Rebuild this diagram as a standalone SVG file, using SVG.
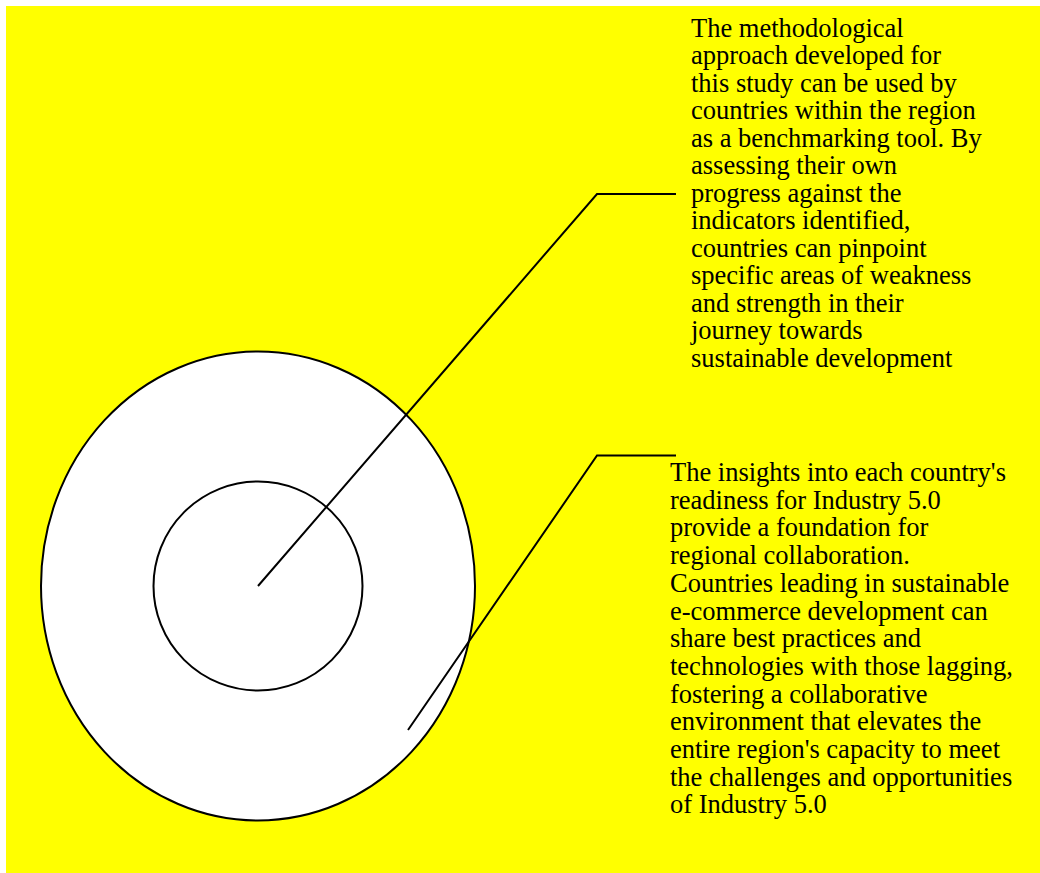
<svg xmlns="http://www.w3.org/2000/svg" width="1040" height="873" viewBox="0 0 1040 873">
<style>
.ring{fill:#ffffff;stroke:#000000;stroke-width:2}
.conn{fill:none;stroke:#000000;stroke-width:2}
.lbl{font-family:"Liberation Serif","Times New Roman",serif;font-size:26.5px;fill:#000000}
</style>
<rect x="6" y="6" width="1034" height="867" fill="#ffff00"/>
<g id="outer-ring"><ellipse class="ring" cx="258" cy="586" rx="217" ry="234.5"/></g>
<g id="inner-ring"><circle class="ring" cx="258" cy="586" r="104.5"/></g>
<g id="connectors">
<polyline class="conn" points="258,586 597,194 676,194"/>
<polyline class="conn" points="408,730 597,455.5 676,455.5"/>
</g>
<g id="label-top">
<text class="lbl" x="691" y="36.7">
<tspan x="691" dy="0">The methodological</tspan>
<tspan x="691" dy="27.5">approach developed for</tspan>
<tspan x="691" dy="27.5">this study can be used by</tspan>
<tspan x="691" dy="27.5">countries within the region</tspan>
<tspan x="691" dy="27.5">as a benchmarking tool. By</tspan>
<tspan x="691" dy="27.5">assessing their own</tspan>
<tspan x="691" dy="27.5">progress against the</tspan>
<tspan x="691" dy="27.5">indicators identified,</tspan>
<tspan x="691" dy="27.5">countries can pinpoint</tspan>
<tspan x="691" dy="27.5">specific areas of weakness</tspan>
<tspan x="691" dy="27.5">and strength in their</tspan>
<tspan x="691" dy="27.5">journey towards</tspan>
<tspan x="691" dy="27.5">sustainable development</tspan>
</text>
</g>
<g id="label-bottom">
<text class="lbl" x="670" y="481">
<tspan x="670" dy="0">The insights into each country's</tspan>
<tspan x="670" dy="27.7">readiness for Industry 5.0</tspan>
<tspan x="670" dy="27.7">provide a foundation for</tspan>
<tspan x="670" dy="27.7">regional collaboration.</tspan>
<tspan x="670" dy="27.7">Countries leading in sustainable</tspan>
<tspan x="670" dy="27.7">e-commerce development can</tspan>
<tspan x="670" dy="27.7">share best practices and</tspan>
<tspan x="670" dy="27.7">technologies with those lagging,</tspan>
<tspan x="670" dy="27.7">fostering a collaborative</tspan>
<tspan x="670" dy="27.7">environment that elevates the</tspan>
<tspan x="670" dy="27.7">entire region's capacity to meet</tspan>
<tspan x="670" dy="27.7">the challenges and opportunities</tspan>
<tspan x="670" dy="27.7">of Industry 5.0</tspan>
</text>
</g>
</svg>
